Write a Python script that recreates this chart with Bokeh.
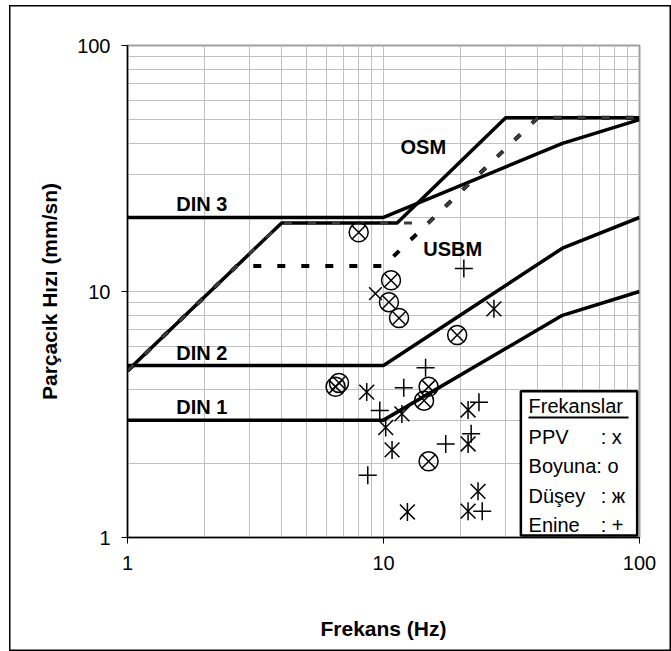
from bokeh.plotting import figure
from bokeh.models import FixedTicker, Range1d, NumeralTickFormatter
from bokeh.core.properties import value
from bokeh.embed import file_html
from bokeh.resources import INLINE

# ---- limit curves (frequency Hz, velocity mm/s) ----
din_f = [1, 10, 50, 100]
din3_v = [20, 20, 40, 50]
din2_v = [5, 5, 15, 20]
din1_v = [3, 3, 8, 10]

osm_f = [1, 4, 11.3, 30, 100]
osm_v = [4.76, 19, 19, 50.8, 50.8]

usbm_dry_f = [1, 4, 15, 40, 100]
usbm_dry_v = [4.76, 19, 19, 50.8, 50.8]

usbm_pl_f = [1, 2.67, 10, 40, 100]
usbm_pl_v = [4.76, 12.7, 12.7, 50.8, 50.8]

# ---- measurements ----
boy_f = [8.0, 10.7, 10.5, 11.5, 19.4, 6.5, 6.7, 15.0, 14.4, 15.0]
boy_v = [17.4, 11.1, 9.05, 7.8, 6.65, 4.1, 4.25, 4.1, 3.6, 2.04]

ppv_f = [8.0, 10.7, 10.5, 11.5, 19.4, 6.5, 6.7, 15.0, 14.4, 15.0, 9.3]
ppv_v = [17.4, 11.1, 9.05, 7.8, 6.65, 4.1, 4.25, 4.1, 3.6, 2.04, 9.8]

dus_f = [27.0, 8.6, 11.8, 21.4, 10.2, 21.4, 10.8, 23.4, 12.4, 21.4]
dus_v = [8.5, 3.9, 3.18, 3.3, 2.8, 2.4, 2.27, 1.54, 1.27, 1.28]

eni_f = [20.6, 14.6, 12.0, 9.67, 23.6, 22.0, 17.5, 8.68, 24.3]
eni_v = [12.4, 4.9, 4.06, 3.28, 3.55, 2.64, 2.4, 1.79, 1.28]

major = [1, 10, 100]
minor = [2, 3, 4, 5, 6, 7, 8, 9, 20, 30, 40, 50, 60, 70, 80, 90]
tick_labels = {1: "1", 10: "10", 100: "100"}

FONT = "Liberation Sans"

p = figure(width=671, height=651, x_axis_type="log", y_axis_type="log",
           x_range=Range1d(1, 100), y_range=Range1d(1, 100),
           output_backend="svg", toolbar_location=None,
           min_border_left=127, min_border_right=32,
           min_border_top=45, min_border_bottom=114)
p.background_fill_color = "white"
p.border_fill_alpha = 0
p.outline_line_color = "#a0a0a0"
p.outline_line_width = 2
p.styles = {
    "background-color": "white",
    "box-shadow": ("inset 9px 0 0 0 white, inset 0 5px 0 0 white, "
                   "inset 10.5px 0 0 0 black, inset 0 6.5px 0 0 black, "
                   "inset -1.5px 0 0 0 black, inset 0 -1.5px 0 0 black"),
}

for ax in (p.xaxis[0], p.yaxis[0]):
    ax.ticker = FixedTicker(ticks=major, minor_ticks=minor)
    ax.formatter = NumeralTickFormatter(format="0")
    ax.major_label_overrides = tick_labels
    ax.major_label_text_font = FONT
    ax.major_label_text_font_size = "20px"
    ax.major_label_text_color = "black"
    ax.axis_line_color = "black"
    ax.axis_line_width = 1.5
    ax.major_tick_line_color = "black"
    ax.major_tick_out = 6
    ax.major_tick_in = 0
    ax.minor_tick_out = 0
    ax.minor_tick_in = 0
    ax.axis_label_text_font = FONT
    ax.axis_label_text_font_style = "bold"
    ax.axis_label_text_font_size = "21px"
    ax.axis_label_text_color = "black"

p.xaxis.axis_label = "Frekans (Hz)"
p.yaxis.axis_label = "Parçacık Hızı (mm/sn)"
p.xaxis.major_label_standoff = 12
p.yaxis.major_label_standoff = 11
p.xaxis.axis_label_standoff = 44
p.yaxis.axis_label_standoff = 13

for g in (p.xgrid[0], p.ygrid[0]):
    g.grid_line_color = "#c0c0c0"
    g.grid_line_width = 1
    g.minor_grid_line_color = "#c0c0c0"
    g.minor_grid_line_width = 1

# limit lines
p.line(din_f, din3_v, line_color="black", line_width=3.5)
p.line(din_f, din2_v, line_color="black", line_width=3.5)
p.line(din_f, din1_v, line_color="black", line_width=3.5)
p.line(osm_f, osm_v, line_color="black", line_width=3.5)
p.line(usbm_pl_f, usbm_pl_v, line_color="black", line_width=4, line_dash="8 16")
p.line(usbm_dry_f, usbm_dry_v, line_color="#3c3c3c", line_width=3, line_dash="8 16")

# measurement markers
p.scatter(boy_f, boy_v, marker="circle", size=19, fill_color=None,
          line_color="black", line_width=1.5)
p.scatter(ppv_f, ppv_v, marker="x", size=18, line_color="black", line_width=1.5)
p.scatter(dus_f, dus_v, marker="x", size=21, line_color="black", line_width=1.5)
p.scatter(dus_f, dus_v, marker="dash", angle=1.5708, size=18, line_color="black", line_width=1.5)
p.scatter(eni_f, eni_v, marker="cross", size=18, line_color="black", line_width=1.5)

# curve labels
p.text(x=[1.55, 1.55, 1.55, 11.65, 14.3], y=[22.6, 5.61, 3.39, 38.6, 14.9],
       text=["DIN 3", "DIN 2", "DIN 1", "OSM", "USBM"],
       text_font=value(FONT), text_font_style="bold", text_font_size="20px",
       text_color="black", text_align="left", text_baseline="middle")

# legend box
p.quad(left=[34.4], right=[97.9], bottom=[1.02], top=[3.93],
       fill_color="white", line_color="black", line_width=2.5)
p.text(x=[36.86], y=[3.418], text=["Frekanslar"], text_font=value(FONT),
       text_font_size="20px", text_color="black", text_align="left", text_baseline="middle")
p.segment(x0=[36.86], y0=[3.074], x1=[90.6], y1=[3.074], line_color="black", line_width=2)
p.text(x=[36.86, 36.86, 36.86, 36.86], y=[2.557, 1.944, 1.468, 1.119],
       text=["PPV", "Boyuna: o", "Düşey", "Enine"], text_font=value(FONT),
       text_font_size="20px", text_color="black", text_align="left", text_baseline="middle")
p.text(x=[70.5, 70.5, 70.5], y=[2.557, 1.468, 1.119],
       text=[": x", ": ж", ": +"], text_font=value(FONT),
       text_font_size="20px", text_color="black", text_align="left", text_baseline="middle")

open("out.html", "w").write(file_html(p, INLINE))
